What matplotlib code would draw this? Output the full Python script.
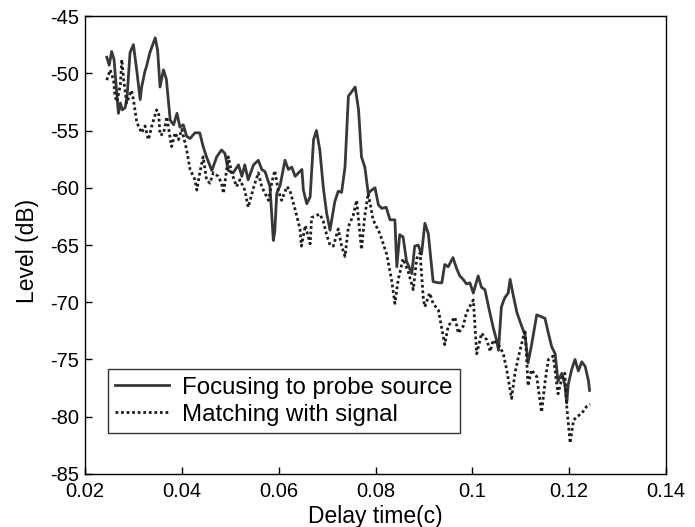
import matplotlib
matplotlib.use('Agg')
import matplotlib.pyplot as plt

# Focusing to probe source (solid)
focus_t = [0.0245, 0.0250, 0.0255, 0.0260, 0.0266, 0.0269, 0.0273, 0.0277, 0.0283, 0.0287,
           0.0293, 0.0300, 0.0307, 0.0314, 0.0317, 0.0324, 0.0327, 0.0334, 0.0345, 0.0350,
           0.0355, 0.0362, 0.0368, 0.0372, 0.0376, 0.0383, 0.0390, 0.0396, 0.0403, 0.0410,
           0.0417, 0.0427, 0.0437, 0.0444, 0.0451, 0.0462, 0.0472, 0.0482, 0.0489, 0.0496,
           0.0506, 0.0517, 0.0524, 0.0530, 0.0537, 0.0548, 0.0558, 0.0565, 0.0572, 0.0582,
           0.0589, 0.0592, 0.0596, 0.0603, 0.0613, 0.0620, 0.0627, 0.0634, 0.0641, 0.0648,
           0.0651, 0.0658, 0.0665, 0.0672, 0.0678, 0.0685, 0.0692, 0.0699, 0.0706, 0.0716,
           0.0723, 0.0730, 0.0737, 0.0744, 0.0751, 0.0758, 0.0765, 0.0771, 0.0778, 0.0785,
           0.0792, 0.0799, 0.0806, 0.0813, 0.0822, 0.0830, 0.0840, 0.0844, 0.0850, 0.0857,
           0.0864, 0.0875, 0.0881, 0.0888, 0.0895, 0.0902, 0.0909, 0.0919, 0.0930, 0.0937,
           0.0943, 0.0950, 0.0960, 0.0967, 0.0974, 0.0981, 0.0988, 0.0995, 0.1002, 0.1012,
           0.1019, 0.1026, 0.1033, 0.1043, 0.1050, 0.1054, 0.1060, 0.1067, 0.1074, 0.1078,
           0.1085, 0.1092, 0.1102, 0.1109, 0.1115, 0.1122, 0.1133, 0.1150, 0.1157, 0.1164,
           0.1171, 0.1177, 0.1185, 0.1191, 0.1195, 0.1198, 0.1205, 0.1212, 0.1219, 0.1226,
           0.1233, 0.1240, 0.1242]
focus_db = [-48.6, -49.3, -48.1, -48.8, -52.0, -53.5, -52.6, -53.2, -53.0, -52.0,
            -48.2, -47.5, -49.8, -52.3, -51.2, -49.8, -49.4, -48.2, -46.9, -48.0,
            -51.2, -49.7, -50.5, -52.3, -54.1, -54.5, -53.5, -54.7, -54.5, -55.5,
            -55.7, -55.2, -55.2, -56.4, -57.3, -58.5, -57.3, -56.7, -57.0, -58.5,
            -58.7, -58.0, -59.0, -58.0, -59.3, -58.0, -57.6, -58.4, -58.6, -59.9,
            -64.6, -63.8, -60.5, -59.8, -57.6, -58.4, -58.2, -59.0, -58.7, -58.4,
            -60.2, -61.4, -60.8, -55.8, -55.0, -56.7, -59.9, -62.2, -63.7, -61.2,
            -60.3, -60.4, -58.2, -52.0, -51.6, -51.2, -53.2, -57.3, -58.2, -60.5,
            -60.2, -60.0, -61.5, -61.8, -61.7, -62.8, -62.8, -66.9, -64.1, -64.3,
            -66.4, -67.5, -65.1, -65.0, -65.8, -63.1, -64.0, -68.2, -68.3, -68.3,
            -66.7, -66.9, -66.1, -67.0, -67.7, -68.0, -68.4, -68.3, -69.2, -67.7,
            -68.7, -68.9, -70.3, -72.2, -73.3, -74.2, -70.4, -69.6, -69.2, -68.0,
            -69.5, -70.9, -72.1, -72.9, -75.3, -73.8, -71.1, -71.4, -72.7, -73.9,
            -74.5, -76.9, -76.2, -77.2, -78.8, -77.2, -75.9, -75.0, -76.0, -75.2,
            -75.6, -76.9, -77.7]

# Matching with signal (dotted)
match_t = [0.0245, 0.0252, 0.0259, 0.0262, 0.0266, 0.0273, 0.0276, 0.0280, 0.0286, 0.0296,
           0.0300, 0.0307, 0.0317, 0.0324, 0.0331, 0.0338, 0.0348, 0.0352, 0.0355, 0.0362,
           0.0369, 0.0376, 0.0379, 0.0386, 0.0393, 0.0400, 0.0410, 0.0417, 0.0427, 0.0431,
           0.0437, 0.0444, 0.0451, 0.0458, 0.0465, 0.0475, 0.0482, 0.0486, 0.0496, 0.0503,
           0.0513, 0.0520, 0.0530, 0.0537, 0.0548, 0.0558, 0.0565, 0.0579, 0.0586, 0.0592,
           0.0599, 0.0606, 0.0617, 0.0623, 0.0634, 0.0644, 0.0647, 0.0655, 0.0665, 0.0668,
           0.0685, 0.0692, 0.0699, 0.0706, 0.0713, 0.0723, 0.0730, 0.0737, 0.0744, 0.0754,
           0.0761, 0.0768, 0.0771, 0.0778, 0.0785, 0.0795, 0.0809, 0.0823, 0.0833, 0.0840,
           0.0847, 0.0857, 0.0868, 0.0878, 0.0885, 0.0892, 0.0899, 0.0902, 0.0912, 0.0919,
           0.0930, 0.0943, 0.0950, 0.0964, 0.0971, 0.0981, 0.0988, 0.1002, 0.1009, 0.1019,
           0.1030, 0.1037, 0.1043, 0.1050, 0.1057, 0.1064, 0.1071, 0.1081, 0.1088, 0.1095,
           0.1102, 0.1109, 0.1115, 0.1122, 0.1133, 0.1143, 0.1150, 0.1157, 0.1167, 0.1177,
           0.1184, 0.1191, 0.1195, 0.1202, 0.1209, 0.1216, 0.1226, 0.1236, 0.1243]
match_db = [-50.6, -49.7, -50.6, -52.0, -52.5, -51.0, -48.8, -50.6, -52.6, -51.5,
            -52.3, -54.3, -55.2, -54.6, -55.8, -54.6, -53.2, -53.4, -55.4, -55.3,
            -53.8, -55.7, -56.4, -55.2, -55.8, -54.9, -56.7, -58.4, -59.3, -60.2,
            -58.7, -57.3, -59.3, -59.6, -58.7, -59.0, -59.6, -60.5, -57.3, -58.7,
            -59.9, -59.3, -60.2, -61.7, -60.0, -58.7, -59.9, -61.1, -59.5, -58.5,
            -60.2, -61.1, -59.9, -60.2, -61.9, -63.6, -65.1, -63.3, -64.9, -62.6,
            -62.3, -62.9, -64.1, -65.0, -65.1, -63.6, -65.1, -66.0, -63.4, -62.4,
            -61.1, -64.1, -65.4, -62.4, -60.5, -62.8, -64.0, -65.8, -68.0, -70.1,
            -68.0, -66.2, -67.4, -68.9, -66.2, -65.7, -69.8, -70.4, -69.2, -70.1,
            -70.7, -73.7, -72.1, -71.3, -72.7, -72.1, -70.9, -69.8, -74.5, -72.7,
            -73.3, -74.3, -73.3, -73.6, -73.9, -74.5, -75.9, -78.4, -76.2, -74.8,
            -73.6, -72.4, -77.3, -75.9, -76.5, -79.6, -77.0, -75.0, -74.7, -78.0,
            -76.8, -76.2, -79.1, -82.3, -80.3, -80.0, -79.7, -79.1, -78.9]

plt.rcParams['font.family'] = ['Liberation Sans', 'DejaVu Sans']
plt.rcParams['axes.unicode_minus'] = False

fig = plt.figure(figsize=(6.95, 5.27), dpi=100)
ax = fig.add_axes([0.1223, 0.1006, 0.836, 0.869])

ax.plot(focus_t, focus_db, color='#383838', linewidth=2.0, linestyle='-',
        label='Focusing to probe source')
ax.plot(match_t, match_db, color='#1e1e1e', linewidth=2.0, linestyle=(0, (1, 1)),
        label='Matching with signal')

ax.set_xlim(0.02, 0.14)
ax.set_ylim(-85, -45)
ax.set_xticks([0.02, 0.04, 0.06, 0.08, 0.1, 0.12, 0.14])
ax.set_xticklabels(['0.02', '0.04', '0.06', '0.08', '0.1', '0.12', '0.14'])
ax.set_yticks(range(-85, -44, 5))
ax.tick_params(direction='in', length=5, width=1, labelsize=14.5)
ax.tick_params(axis='x', pad=5.5)
ax.tick_params(axis='y', pad=4.3)
for side in ax.spines.values():
    side.set_linewidth(1)
ax.set_xlabel('Delay time(c)', fontsize=16.5)
ax.set_ylabel('Level (dB)', fontsize=16.5)
ax.xaxis.set_label_coords(0.499, -0.0677)
ax.yaxis.set_label_coords(-0.08, 0.487)

ax.legend(loc='lower left', bbox_to_anchor=(0.0396, 0.0895), borderaxespad=0,
          fontsize=17.3, frameon=True, fancybox=False, edgecolor='black',
          handlelength=2.25, handletextpad=0.55, labelspacing=0.22, borderpad=0.3)
ax.get_legend().get_frame().set_linewidth(1)

fig.savefig('out.png', dpi=100, facecolor='white')
